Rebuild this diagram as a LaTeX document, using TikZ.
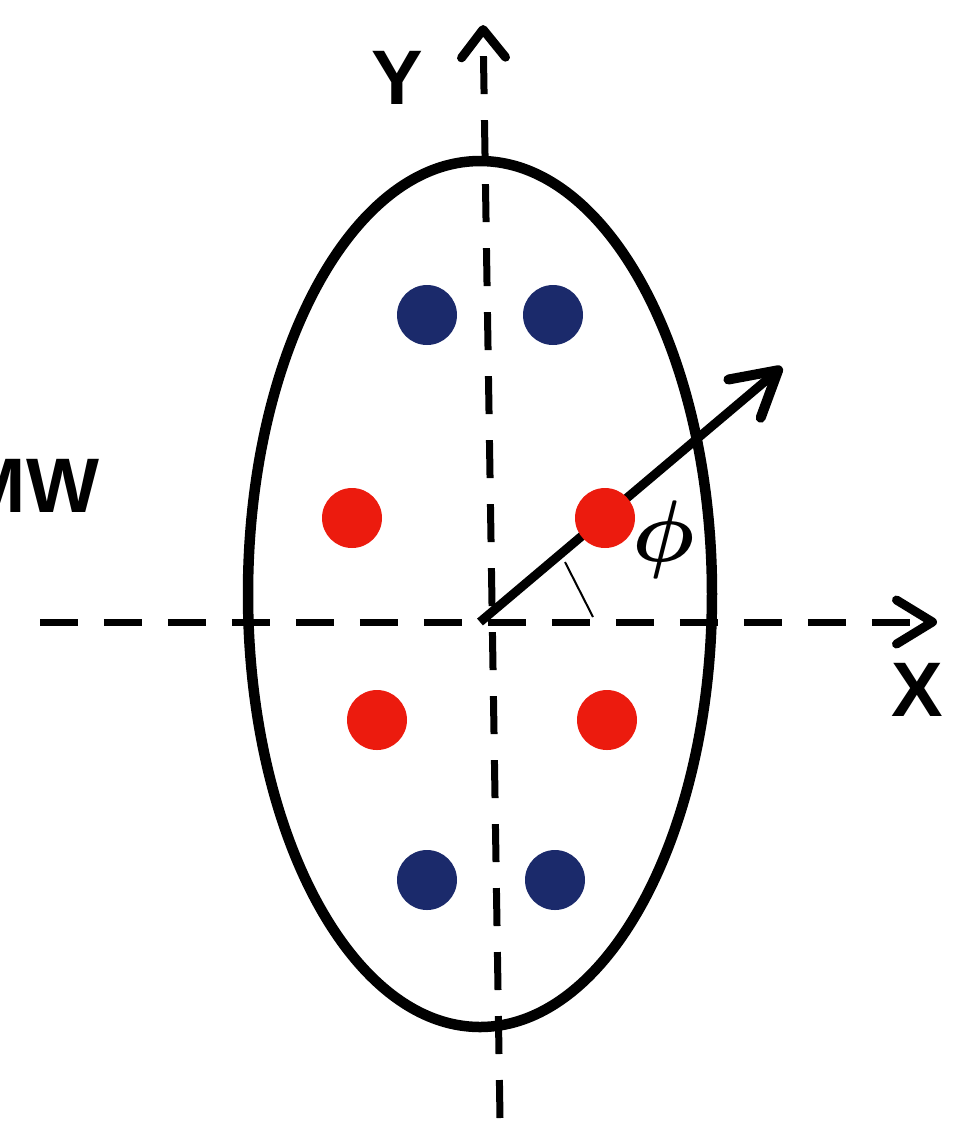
\documentclass[tikz,border=0pt]{standalone}
\usepackage{fontspec}
\setsansfont{Liberation Sans}
\usetikzlibrary{arrows.meta}
\definecolor{dotblue}{HTML}{1B2A6B}
\definecolor{dotred}{HTML}{EC1B0E}

\begin{document}
\begin{tikzpicture}[
        x=0.1mm, y=-0.1mm,
        axis/.style={line width=0.7mm, dash pattern=on 3.8mm off 2.6mm},
        lbl/.style={font=\sffamily\bfseries\fontsize{22}{26}\selectfont, inner sep=0pt},
        spot/.style={circle, inner sep=0pt, minimum size=6mm},
        bluespot/.style={spot, fill=dotblue},
        redspot/.style={spot, fill=dotred}
    ]
        \useasboundingbox (0,0) rectangle (974,1121);
        \coordinate (O) at (480,622);
        \coordinate (xs) at (40,622);   \coordinate (xe) at (937,622);
        \coordinate (ys) at (500,1118); \coordinate (ye) at (483,25);
        \coordinate (tip) at (782,367);
        % axes
        \draw[axis, -{Straight Barb[length=3.6mm,width=4.4mm,line width=0.9mm,round]}] (xs) -- (xe);
        \draw[axis, -{Straight Barb[length=2.8mm,width=4.4mm,line width=0.9mm,round]}] (ys) -- (ye);
        % ellipse
        \draw[line width=1.05mm] (480,594) ellipse [x radius=232, y radius=433];
        % direction and angle
        \draw[line width=0.9mm, -{Straight Barb[length=4.4mm,width=5mm,line width=1mm,round]}] (O) -- (tip);
        \coordinate (t1) at (565,562); \coordinate (t2) at (593,617);
        \draw[line width=0.2mm] (t1) -- (t2);
        \node[inner sep=0pt, font=\boldmath\fontsize{33}{40}\selectfont] (phi) at (664,540) {$\phi$};
        % spots
        \node[bluespot] (b1) at (427,315) {};
        \node[bluespot] (b2) at (553,315) {};
        \node[redspot] (r1) at (352,518) {};
        \node[redspot] (r2) at (605,518) {};
        \node[redspot] (r3) at (377,720) {};
        \node[redspot] (r4) at (607,720) {};
        \node[bluespot] (b3) at (427,880) {};
        \node[bluespot] (b4) at (555,880) {};
        % labels
        \node[lbl, anchor=east] (mw) at (100,486) {MW};
        \node[lbl] (ylab) at (397,78) {Y};
        \node[lbl] (xlab) at (917,690) {X};
    \end{tikzpicture}
\end{document}
